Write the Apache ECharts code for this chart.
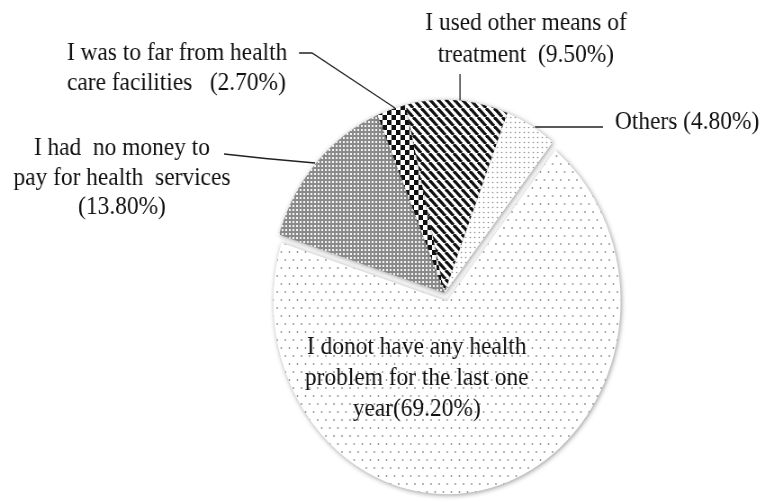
<!DOCTYPE html>
<html>
<head>
<meta charset="utf-8">
<script src="https://cdn.jsdelivr.net/npm/echarts@6/dist/echarts.min.js"></script>
<style>
html,body{margin:0;padding:0;background:#fff;overflow:hidden;width:763px;height:502px;}
#wrap{width:763px;height:502px;overflow:hidden;position:relative;}
#chart{width:848px;height:502px;transform:scaleX(0.9);transform-origin:0 0;position:absolute;left:0;top:0;}
</style>
</head>
<body>
<div id="wrap"><div id="chart"></div></div>
<script>
// ---- data ----
const categories = [
  "I donot have any health problem for the last one year",
  "I had no money to pay for health services",
  "I was to far from health care facilities",
  "I used other means of treatment",
  "Others"
];
const values = [69.2, 13.8, 2.7, 9.5, 4.8];
const labelPrefixes = [
  "I donot have any health\nproblem for the last one\nyear",
  "I had  no money to\npay for health  services\n",
  "I was to far from health\ncare facilities   ",
  "I used other means of\ntreatment  ",
  "Others "
];
// which slices are pulled out as a separate piece (the large one)
const explodedGroup = [1, 0, 0, 0, 0];

// ---- styles / layout (not data) ----
function tile(w, h, draw) {
  const c = document.createElement('canvas');
  c.width = w; c.height = h;
  const g = c.getContext('2d');
  draw(g);
  return { image: c, repeat: 'repeat' };
}
function dot(g, x, y, r) { g.beginPath(); g.arc(x, y, r, 0, Math.PI * 2); g.fill(); }
const patterns = [
  tile(9, 16, g => { g.fillStyle = '#fff'; g.fillRect(0, 0, 9, 16); g.fillStyle = '#8f8f8f'; dot(g, 2, 4, 0.9); dot(g, 6.5, 12, 0.9); }),
  tile(4, 4, g => { g.fillStyle = '#8a8a8a'; g.fillRect(0, 0, 4, 4); g.fillStyle = '#f4f4f4'; g.fillRect(1, 1, 2, 2); }),
  tile(10, 10, g => { g.fillStyle = '#fff'; g.fillRect(0, 0, 10, 10); g.fillStyle = '#111'; g.fillRect(0, 0, 5, 5); g.fillRect(5, 5, 5, 5); }),
  tile(9, 9, g => { g.fillStyle = '#fff'; g.fillRect(0, 0, 9, 9); g.strokeStyle = '#111'; g.lineWidth = 3.2;
    for (const k of [-9, 0, 9]) { g.beginPath(); g.moveTo(k, 0); g.lineTo(k + 9, 9); g.stroke(); } }),
  tile(5, 5, g => { g.fillStyle = '#fff'; g.fillRect(0, 0, 5, 5); g.fillStyle = '#8a8a8a'; dot(g, 2.5, 2.5, 0.8); })
];
// label anchor positions (canvas px) and line heights
const labelPos = [
  { x: 463, y: 378, align: 'center', lh: 31 },
  { x: 135.5, y: 178, align: 'center', lh: 29.5 },
  { x: 74.4, y: 68.5, align: 'left', lh: 30 },
  { x: 584.4, y: 39.5, align: 'center', lh: 32 },
  { x: 683.3, y: 122, align: 'left', lh: 30 }
];
const leaderPts = [
  null,
  [[249, 154], [295, 158.5], [350, 163]],
  [[332.2, 53], [346.7, 53], [438.9, 108]],
  [[511.1, 74], [511.1, 88], [511.1, 102]],
  [[594.4, 127], [632, 127], [670, 127]]
];
const baseCenter = [494, 293];
const explodeShift = [2.6, 8.2];

function makeSeries(group) {
  const center = group === 1 ? [baseCenter[0] + explodeShift[0], baseCenter[1] + explodeShift[1]] : baseCenter;
  const data = categories.map((name, i) => {
    const visible = explodedGroup[i] === group;
    return {
      name: name,
      value: values[i],
      itemStyle: visible ? { color: patterns[i] } :
        { color: 'rgba(0,0,0,0)', shadowColor: 'rgba(0,0,0,0)', shadowBlur: 0 },
      label: { show: visible, position: 'outside', lineHeight: labelPos[i].lh, align: labelPos[i].align },
      labelLine: { show: visible && leaderPts[i] !== null }
    };
  });
  return {
    type: 'pie',
    center: center,
    radius: 193,
    startAngle: 51.5,
    clockwise: true,
    selectedMode: false,
    avoidLabelOverlap: false,
    silent: true,
    emphasis: { disabled: true },
    itemStyle: {
      borderWidth: 0,
      shadowBlur: 5,
      shadowColor: 'rgba(0,0,0,0.4)',
      shadowOffsetX: 1,
      shadowOffsetY: 1
    },
    label: {
      color: '#111',
      fontFamily: 'Liberation Serif',
      fontSize: 26,
      formatter: p => labelPrefixes[p.dataIndex] + '(' + values[p.dataIndex].toFixed(2) + '%)'
    },
    labelLine: {
      lineStyle: { color: '#222', width: 1.3 }
    },
    labelLayout: function (params) {
      const i = params.dataIndex;
      const r = {
        x: labelPos[i].x,
        y: labelPos[i].y,
        align: labelPos[i].align,
        verticalAlign: 'middle'
      };
      if (leaderPts[i]) r.labelLinePoints = leaderPts[i];
      return r;
    },
    data: data
  };
}

const chart = echarts.init(document.getElementById('chart'), null, { renderer: 'canvas' });
chart.setOption({
  animation: false,
  backgroundColor: '#fff',
  series: [makeSeries(1), makeSeries(0)]
});
</script>
</body>
</html>
